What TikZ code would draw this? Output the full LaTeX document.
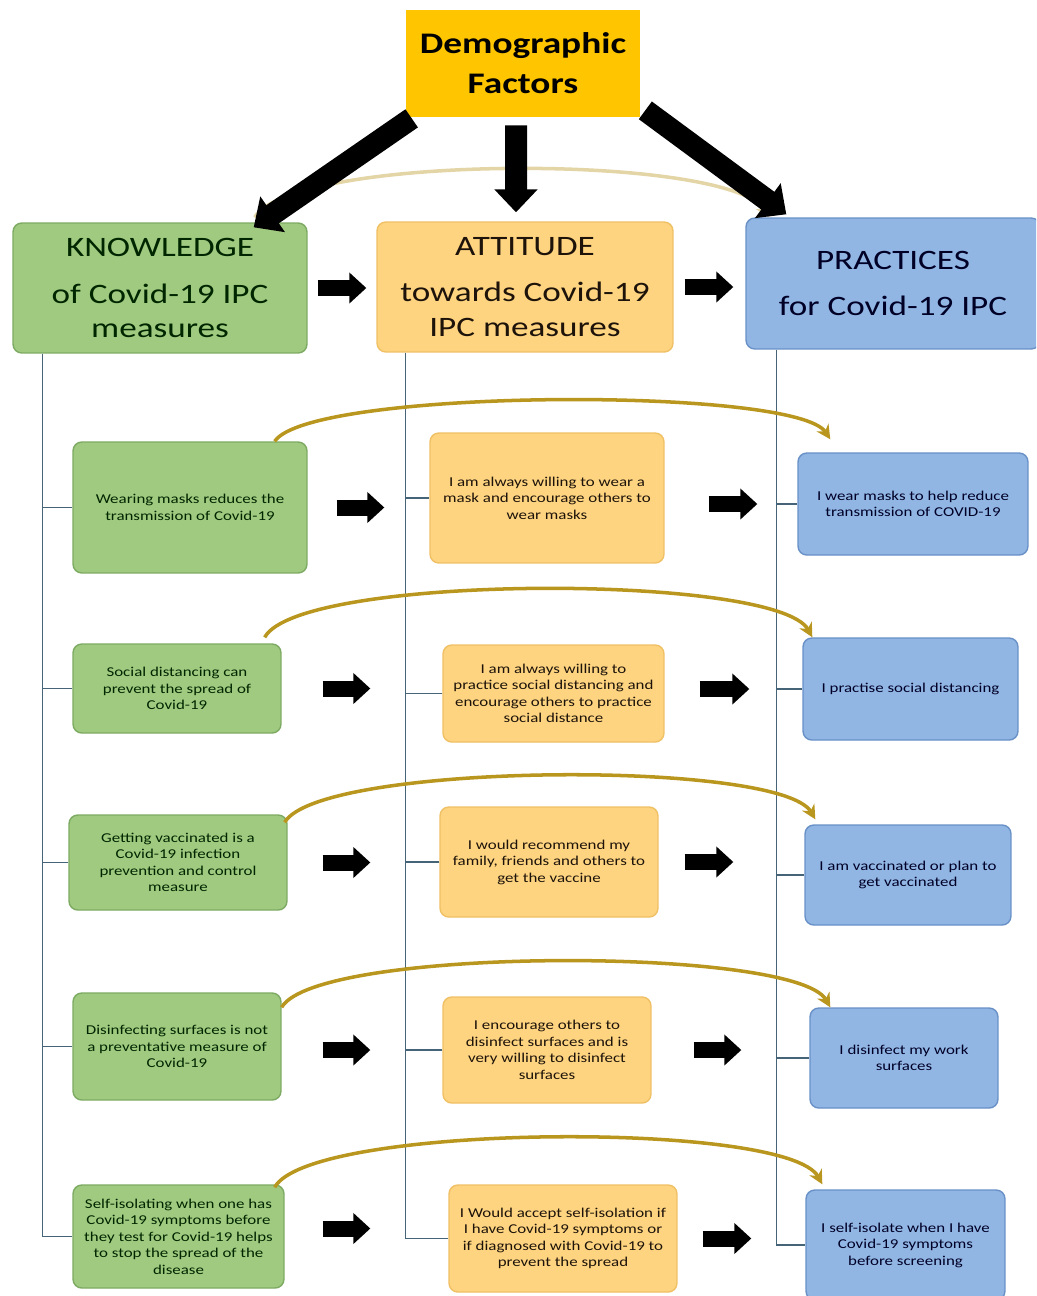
\documentclass[tikz,border=0pt]{standalone}
\usepackage{fontspec}
\setmainfont[FakeStretch=1.25]{Carlito}
\usetikzlibrary{arrows.meta}
\definecolor{demogold}{RGB}{255, 198, 0}
\definecolor{kgreen}{RGB}{160, 202, 128}
\definecolor{kgreenline}{RGB}{125, 170, 98}
\definecolor{aorange}{RGB}{254, 212, 128}
\definecolor{aorangeline}{RGB}{240, 192, 100}
\definecolor{pblue}{RGB}{145, 182, 228}
\definecolor{pblueline}{RGB}{105, 145, 200}
\definecolor{bowgold}{RGB}{185, 150, 30}
\definecolor{treeline}{RGB}{70, 100, 120}

\begin{document}
\begin{tikzpicture}[x=0.02cm, y=-0.02cm,
    box/.style={draw, rounded corners=5pt, line width=0.8pt, align=center, inner sep=2pt},
    kbox/.style={box, fill=kgreen, draw=kgreenline, text=black!85!green},
    abox/.style={box, fill=aorange, draw=aorangeline, text=black!85!brown},
    pbox/.style={box, fill=pblue, draw=pblueline, text=black!85!blue},
    small/.style={font=\fontsize{7.7}{9.4}\selectfont},
    head/.style={font=\fontsize{16}{19.8}\selectfont},
    blk/.style={line width=0.32cm, -{Triangle[length=0.34cm, width=0.6cm]}},
    big/.style={line width=0.44cm, -{Triangle[length=0.46cm, width=0.84cm]}},
    bow/.style={draw=bowgold, line width=2pt, -{Stealth[length=8pt, width=8pt]}},
    tree/.style={draw=treeline, line width=0.8pt}]
\useasboundingbox (0,0) rectangle (1036,1296);
\clip (0,0) rectangle (1036,1296);
\fill[white] (0,0) rectangle (1036,1296);

% top row
\node[draw=none, fill=demogold, minimum width=4.68cm, minimum height=2.14cm, align=center,
      font=\fontsize{17}{22.7}\selectfont\bfseries] (demo) at (523,63.5) {Demographic\\Factors};
\node[kbox, head, minimum width=5.88cm, minimum height=2.6cm] (kh) at (160,288)
     {KNOWLEDGE\\[6.8pt]of Covid-19 IPC\\measures};
\node[abox, head, minimum width=5.92cm, minimum height=2.6cm] (ah) at (525,287)
     {ATTITUDE\\[6.8pt]towards Covid-19\\IPC measures};
\node[pbox, head, minimum width=5.88cm, minimum height=2.62cm] (ph) at (893,283.5)
     {PRACTICES\\[6.8pt]for Covid-19 IPC};

% items
\node[kbox, small, minimum width=4.68cm, minimum height=2.62cm] (k1) at (190,507.5)
     {Wearing masks reduces the\\transmission of Covid-19};
\node[abox, small, minimum width=4.68cm, minimum height=2.6cm] (a1) at (547,498)
     {I am always willing to wear a\\mask and encourage others to\\wear masks};
\node[pbox, small, minimum width=4.6cm, minimum height=2.04cm] (p1) at (913,504)
     {I wear masks to help reduce\\transmission of COVID-19};

\node[kbox, small, minimum width=4.16cm, minimum height=1.78cm] (k2) at (177,688.5)
     {Social distancing can\\prevent the spread of\\Covid-19};
\node[abox, small, minimum width=4.42cm, minimum height=1.94cm] (a2) at (553.5,693.5)
     {I am always willing to\\practice social distancing and\\encourage others to practice\\social distance};
\node[pbox, small, minimum width=4.3cm, minimum height=2.04cm] (p2) at (910.5,689)
     {I practise social distancing};

\node[kbox, small, minimum width=4.36cm, minimum height=1.9cm] (k3) at (178,862.5)
     {Getting vaccinated is a\\Covid-19 infection\\prevention and control\\measure};
\node[abox, small, minimum width=4.36cm, minimum height=2.2cm] (a3) at (549,862)
     {I would recommend my\\family, friends and others to\\get the vaccine};
\node[pbox, small, minimum width=4.12cm, minimum height=2cm] (p3) at (908,875)
     {I am vaccinated or plan to\\get vaccinated};

\node[kbox, small, minimum width=4.16cm, minimum height=2.14cm] (k4) at (177,1046.5)
     {Disinfecting surfaces is not\\a preventative measure of\\Covid-19};
\node[abox, small, minimum width=4.16cm, minimum height=2.12cm] (a4) at (547,1050)
     {I encourage others to\\disinfect surfaces and is\\very willing to disinfect\\surfaces};
\node[pbox, small, minimum width=3.76cm, minimum height=2cm] (p4) at (904,1058)
     {I disinfect my work\\surfaces};

\node[kbox, small, minimum width=4.22cm, minimum height=2.06cm] (k5) at (178.5,1236.5)
     {Self-isolating when one has\\Covid-19 symptoms before\\they test for Covid-19 helps\\to stop the spread of the\\disease};
\node[abox, small, minimum width=4.56cm, minimum height=2.14cm] (a5) at (563,1238.5)
     {I Would accept self-isolation if\\I have Covid-19 symptoms or\\if diagnosed with Covid-19 to\\prevent the spread};
\node[pbox, small, minimum width=3.98cm, minimum height=2.2cm] (p5) at (905.5,1245)
     {I self-isolate when I have\\Covid-19 symptoms\\before screening};

% tree lines
\coordinate (kl) at ([xshift=0.6cm]kh.south west);
\coordinate (al) at ([xshift=0.58cm]ah.south west);
\coordinate (pl) at ([xshift=0.62cm]ph.south west);
\draw[tree] (kl) |- (k5.west);
\draw[tree] (al) |- (a5.west);
\draw[tree] (pl) |- (p5.west);
\foreach \n in {1,...,4} {
  \draw[tree] (k\n.west) -- (k\n.west -| kl);
  \draw[tree] (a\n.west) -- (a\n.west -| al);
  \draw[tree] (p\n.west) -- (p\n.west -| pl);
}

% curved arrows
\draw[bow, draw=bowgold!40, -{Stealth[length=8pt, width=8pt, fill=bowgold!40]}]
  ([xshift=-1.06cm,yshift=0.1cm]kh.north east) .. controls +(40,-64) and +(-40,-64) .. ([xshift=0.48cm]ph.north west);
\draw[bow] ([xshift=-0.66cm]k1.north east) .. controls +(35,-53) and +(-35,-53) .. ([xshift=0.66cm,yshift=0.26cm]p1.north west);
\draw[bow] ([xshift=-0.34cm,yshift=0.12cm]k2.north east) .. controls +(35,-64) and +(-35,-64) .. ([xshift=0.2cm]p2.north west);
\draw[bow] ([xshift=-0.06cm,yshift=-0.16cm]k3.north east) .. controls +(35,-60) and +(-35,-60) .. ([xshift=0.22cm,yshift=0.1cm]p3.north west);
\draw[bow] ([yshift=-0.3cm]k4.north east) .. controls +(35,-61) and +(-35,-61) .. ([xshift=0.42cm]p4.north west);
\draw[bow] ([xshift=-0.2cm,yshift=-0.06cm]k5.north east) .. controls +(35,-64) and +(-35,-64) .. ([xshift=0.34cm,yshift=0.1cm]p5.north west);

% black arrows
\draw[big] ([xshift=0.12cm,yshift=-0.02cm]demo.south west) -- ([xshift=-1.08cm,yshift=-0.1cm]kh.north east);
\draw[big] ([xshift=-0.14cm,yshift=-0.16cm]demo.south) -- ([xshift=-0.18cm,yshift=0.18cm]ah.north);
\draw[big] ([xshift=0.1cm,yshift=0.14cm]demo.south east) -- ([xshift=0.82cm,yshift=0.06cm]ph.north west);

\draw[blk, shorten <=0.2cm, shorten >=0.2cm] (kh.east) -- (kh.east -| ah.west);
\draw[blk, shorten <=0.22cm, shorten >=0.24cm] (ah.east) -- (ah.east -| ph.west);

\draw[blk, shorten <=0.58cm, shorten >=0.9cm] (k1.east) -- (k1.east -| a1.west);
\draw[blk, shorten <=0.88cm, shorten >=0.8cm] (a1.east |- p1.west) -- (p1.west);
\draw[blk, shorten <=0.82cm, shorten >=1.44cm] (k2.east) -- (k2.east -| a2.west);
\draw[blk, shorten <=0.7cm, shorten >=1.06cm] (a2.east |- p2.west) -- (p2.west);
\draw[blk, shorten <=0.7cm, shorten >=1.38cm] (k3.east) -- (k3.east -| a3.west);
\draw[blk, shorten <=0.52cm, shorten >=1.42cm] (a3.east) -- (a3.east -| p3.west);
\draw[blk, shorten <=0.82cm, shorten >=1.44cm] (k4.east |- a4.west) -- (a4.west);
\draw[blk, shorten <=0.84cm, shorten >=1.36cm] (a4.east) -- (a4.east -| p4.west);
\draw[blk, shorten <=0.76cm, shorten >=1.56cm] ([yshift=0.16cm]k5.east) -- ([yshift=0.16cm]k5.east -| a5.west);
\draw[blk, shorten <=0.5cm, shorten >=1.08cm] (a5.east) -- (a5.east -| p5.west);
\end{tikzpicture}
\end{document}
